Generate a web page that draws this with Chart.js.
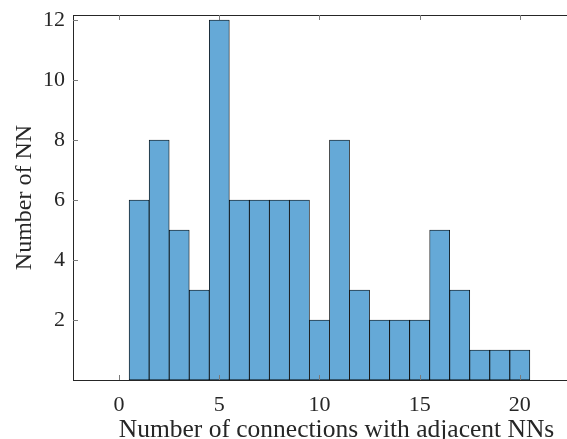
<!DOCTYPE html>
<html>
<head>
<meta charset="utf-8">
<script src="https://cdn.jsdelivr.net/npm/chart.js@4.4.1/dist/chart.umd.min.js"></script>
<style>
  html, body { margin: 0; padding: 0; background: #fff; overflow: hidden; }
  /* the original figure is cut off on the right, so the axes run past the page edge */
  #wrap { width: 567px; height: 439px; overflow: hidden; }
</style>
</head>
<body>
<div id="wrap"><canvas id="myChart" width="600" height="439"></canvas></div>
<script>
// histogram bins (centres) and counts
var binCenters = [1, 2, 3, 4, 5, 6, 7, 8, 9, 10, 11, 12, 13, 14, 15, 16, 17, 18, 19, 20];
var counts = [6, 8, 5, 3, 12, 6, 6, 6, 6, 2, 8, 3, 2, 2, 2, 5, 3, 1, 1, 1];
var xTicks = [0, 5, 10, 15, 20];
var yTicks = [2, 4, 6, 8, 10, 12];

var axisColor = '#262626';
var serif = '"Liberation Serif", "Times New Roman", serif';

// inward tick marks, like MATLAB
var innerTicks = {
  id: 'innerTicks',
  afterDraw: function (chart) {
    var c = chart.ctx, a = chart.chartArea;
    c.save();
    c.strokeStyle = '#7a7a7a';
    c.lineWidth = 1;
    c.beginPath();
    xTicks.forEach(function (v) {
      var px = Math.round(chart.scales.x.getPixelForValue(v)) + 0.5;
      c.moveTo(px, a.bottom); c.lineTo(px, a.bottom - 5);
      c.moveTo(px, a.top); c.lineTo(px, a.top + 5);
    });
    yTicks.forEach(function (v) {
      var py = Math.round(chart.scales.y.getPixelForValue(v)) + 0.5;
      c.moveTo(a.left, py); c.lineTo(a.left + 5, py);
    });
    c.stroke();
    c.restore();
  }
};

function noPad(s) {
  s.paddingTop = 0; s.paddingBottom = 0; s.paddingLeft = 0; s.paddingRight = 0;
}

var ctx = document.getElementById('myChart');
var myChart = new Chart(ctx, {
  type: 'bar',
  data: {
    datasets: [{
      data: binCenters.map(function (x, i) { return { x: x, y: counts[i] }; }),
      backgroundColor: 'rgb(101,169,215)',
      borderColor: '#000',
      borderWidth: 0.8,
      borderSkipped: false,
      barPercentage: 1,
      categoryPercentage: 1
    }]
  },
  plugins: [innerTicks],
  options: {
    responsive: false,
    animation: false,
    layout: { padding: 0 },
    plugins: { legend: { display: false }, tooltip: { enabled: false } },
    scales: {
      x: {
        type: 'linear',
        position: 'bottom',
        offset: false,
        min: -2.3,
        max: 24,
        afterFit: function (s) { s.height = 59; noPad(s); },
        afterBuildTicks: function (s) { s.ticks = xTicks.map(function (v) { return { value: v }; }); },
        grid: { display: false, drawTicks: false, offset: false },
        border: { display: true, color: axisColor, width: 1 },
        ticks: { padding: 12, color: axisColor, font: { family: serif, size: 22 } },
        title: {
          display: true,
          text: 'Number of connections with adjacent NNs',
          color: axisColor,
          font: { family: serif, size: 25.5, lineHeight: 1 },
          padding: { top: 0, bottom: -4 }
        }
      },
      x2: {
        type: 'linear',
        position: 'top',
        offset: false,
        min: -2.3,
        max: 24,
        afterFit: function (s) { s.height = 15; noPad(s); },
        grid: { display: false, drawTicks: false },
        border: { display: true, color: axisColor, width: 1 },
        ticks: { display: false }
      },
      y: {
        min: 0,
        max: 12.17,
        afterFit: function (s) { s.width = 73; noPad(s); },
        afterBuildTicks: function (s) { s.ticks = yTicks.map(function (v) { return { value: v }; }); },
        grid: { display: false, drawTicks: false },
        border: { display: true, color: axisColor, width: 1 },
        ticks: { padding: 8, color: axisColor, font: { family: serif, size: 22 } },
        title: {
          display: true,
          text: 'Number of NN',
          color: axisColor,
          font: { family: serif, size: 24, lineHeight: 1.2 },
          padding: { top: 10, bottom: 0 }
        }
      }
    }
  }
});
</script>
</body>
</html>
